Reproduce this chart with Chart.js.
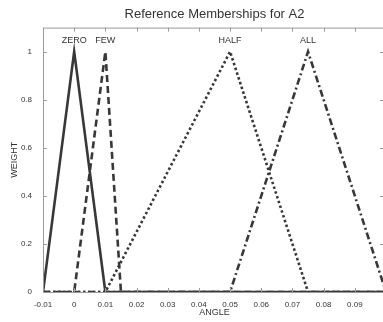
<!DOCTYPE html>
<html>
<head>
<meta charset="utf-8">
<script src="https://cdn.jsdelivr.net/npm/chart.js@4/dist/chart.umd.min.js"></script>
<style>
 body { margin:0; background:#fff; overflow:hidden; }
 #wrap { width:383px; height:322px; overflow:hidden; }
</style>
</head>
<body>
<div id="wrap"><canvas id="courbe" width="386" height="322"></canvas></div>
<script>
/* Fonctions d'appartenance (abscisse / poids) */
 var zeroX = [ -0.01, 0, 0.01, 0.1 ];
 var zeroY = [ 0, 1, 0, 0 ];
 var fewX  = [ -0.01, 0, 0.01, 0.015, 0.1 ];
 var fewY  = [ 0, 0, 1, 0, 0 ];
 var halfX = [ -0.01, 0.01, 0.05, 0.075, 0.1 ];
 var halfY = [ 0, 0, 1, 0, 0 ];
 var allX  = [ -0.01, 0.05, 0.075, 0.1 ];
 var allY  = [ 0, 0, 1, 0 ];
 var noms  = [ "ZERO", "FEW", "HALF", "ALL" ];

 var xTicks = [ -0.01, 0, 0.01, 0.02, 0.03, 0.04, 0.05, 0.06, 0.07, 0.08, 0.09, 0.1 ];
 var yTicks = [ 0, 0.2, 0.4, 0.6, 0.8, 1 ];

 var traits = [ [], [7,4], [2.5,2.5], [7,3,2,3] ];
 var couleurLigne = "#383838";
 var couleurAxe   = "#9a9a9a";
 var couleurTexte = "#333";
 var police = "'Liberation Sans', Arial, sans-serif";

 function Paires ( xs, ys ) { return xs.map( function(x,i) { return { x: x, y: ys[i] }; } ); }

 var series = [ Paires(zeroX,zeroY), Paires(fewX,fewY), Paires(halfX,halfY), Paires(allX,allY) ];

 var datasets = series.map( function(pts,i)
  { return { label: noms[i], data: pts, borderColor: couleurLigne, borderWidth: 2.6,
             borderDash: traits[i], pointRadius: 0, tension: 0, fill: false };
  });

/* Graduations vers l'intérieur, cadre complet et noms au-dessus des pics */
 var cadrePlugin =
  { id: "cadre",
    afterDatasetsDraw: function (chart)
     { var ctx = chart.ctx, a = chart.chartArea, sx = chart.scales.x, sy = chart.scales.y;
       ctx.save();
       ctx.strokeStyle = couleurAxe;
       ctx.lineWidth = 1;
       ctx.beginPath();
       ctx.rect( a.left+0.5, a.top+0.5, a.right-a.left, a.bottom-a.top );
       xTicks.forEach( function(v)
        { var px = Math.round(sx.getPixelForValue(v))+0.5;
          ctx.moveTo(px, a.bottom); ctx.lineTo(px, a.bottom-4);
          ctx.moveTo(px, a.top);    ctx.lineTo(px, a.top+4);
        });
       yTicks.forEach( function(v)
        { var py = Math.round(sy.getPixelForValue(v))+0.5;
          ctx.moveTo(a.left, py);  ctx.lineTo(a.left+4, py);
          ctx.moveTo(a.right-2, py); ctx.lineTo(a.right-6, py);
        });
       ctx.stroke();

       ctx.fillStyle = couleurTexte;
       ctx.font = "9px " + police;
       ctx.textAlign = "center";
       ctx.textBaseline = "bottom";
       series.forEach( function(pts,i)
        { var pic = pts.reduce( function(m,p) { return p.y > m.y ? p : m; } );
          ctx.fillText( noms[i], sx.getPixelForValue(pic.x), sy.getPixelForValue(pic.y)-7 );
        });
       ctx.restore();
     }
  };

 var options =
  { responsive: false,
    animation: false,
    layout: { padding: { left: 9, right: 0, top: 0, bottom: 0 } },
    plugins: { legend: { display: false },
               tooltip: { enabled: false },
               title: { display: true, fullSize: false, text: "Reference Memberships for A2", color: couleurTexte,
                        font: { family: police, size: 13, weight: "normal" }, padding: { top: 7, bottom: 5 } }
             },
    scales:
     { x: { type: "linear", min: -0.01, max: 0.1,
            afterBuildTicks: function (s) { s.ticks = xTicks.map( function(v) { return { value: v }; } ); },
            afterFit: function (s) { s.height = 30; s.paddingRight = 0; s.paddingLeft = 0; },
            grid: { display: false },
            border: { display: false },
            ticks: { color: couleurTexte, font: { family: police, size: 8 }, padding: 0, maxRotation: 0,
                     callback: function (v) { return v >= 0.1 ? "" : String(Number(v.toFixed(2))); } },
            title: { display: true, text: "ANGLE", color: couleurTexte, font: { family: police, size: 9 },
                     padding: { top: 0, bottom: 4 } }
          },
       y: { type: "linear", min: 0, max: 1.1,
            afterBuildTicks: function (s) { s.ticks = yTicks.map( function(v) { return { value: v }; } ); },
            afterFit: function (s) { s.width = 34; },
            grid: { display: false },
            border: { display: false },
            ticks: { color: couleurTexte, font: { family: police, size: 8 }, padding: 3,
                     callback: function (v) { return String(Number(v.toFixed(1))); } },
            title: { display: true, text: "WEIGHT", color: couleurTexte, font: { family: police, size: 9 },
                     padding: { top: 0, bottom: 2 } }
          }
     }
  };

 new Chart( document.getElementById("courbe").getContext("2d"),
            { type: "line", data: { datasets: datasets }, options: options, plugins: [ cadrePlugin ] } );
</script>
</body>
</html>
